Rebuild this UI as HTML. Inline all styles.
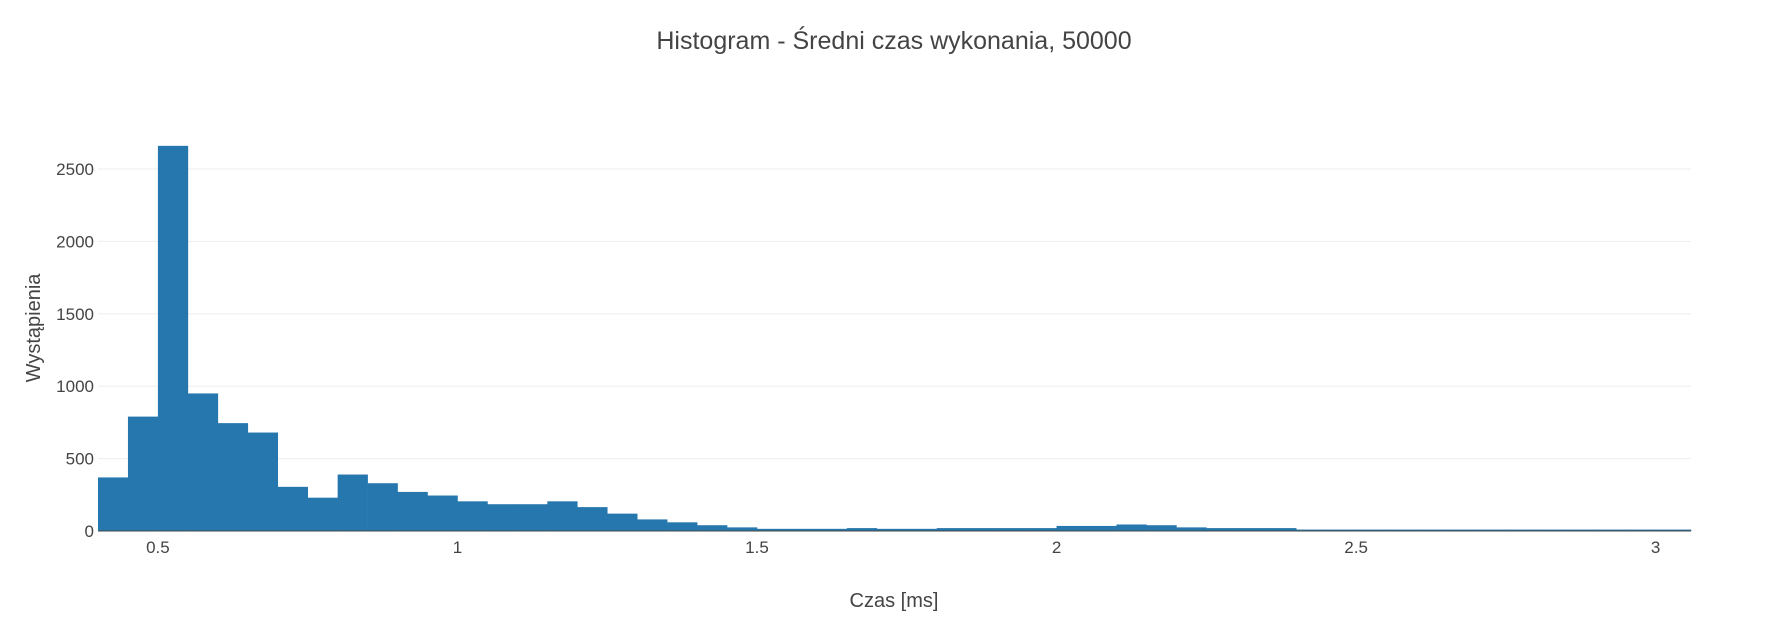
<!DOCTYPE html>
<html><head><meta charset="utf-8"><style>
body{margin:0;background:#fff;width:1785px;height:629px;overflow:hidden}
svg text{font-family:"Liberation Sans",sans-serif;fill:#444}
</style></head><body>
<svg id="chart" width="1785" height="629" xmlns="http://www.w3.org/2000/svg">
<text x="894" y="49" text-anchor="middle" font-size="25">Histogram - Średni czas wykonania, 50000</text>
<g id="grid"></g><g id="bars"></g><g id="axes"></g>
<text x="894" y="607" text-anchor="middle" font-size="20">Czas [ms]</text>
<text transform="translate(40,328) rotate(-90)" text-anchor="middle" font-size="20">Wystąpienia</text>
</svg>
<script>
const binStarts=[0.4,0.45,0.5,0.55,0.6,0.65,0.7,0.75,0.8,0.85,0.9,0.95,1.0,1.05,1.1,1.15,1.2,1.25,1.3,1.35,1.4,1.45,1.5,1.55,1.6,1.65,1.7,1.75,1.8,1.85,1.9,1.95,2.0,2.05,2.1,2.15,2.2,2.25,2.3,2.35,2.4,2.45,2.5,2.55,2.6,2.65,2.7,2.75,2.8,2.85,2.9,2.95,3.0,3.05];
const counts=[370,790,2660,950,745,680,305,230,390,330,270,245,205,185,185,205,165,120,80,60,40,25,15,15,15,20,15,15,20,20,20,20,35,35,45,40,25,20,20,20,10,10,10,10,10,10,10,10,10,10,10,10,10,10];
const binWidth=0.05;
const xTicks=[0.5,1,1.5,2,2.5,3];
const xTickLabels=["0.5","1","1.5","2","2.5","3"];
const yTicks=[0,500,1000,1500,2000,2500];
const yTickLabels=["0","500","1000","1500","2000","2500"];
const L=98,R=1691,B=531;
const xMin=0.4,xMax=3.059;
const X=v=>L+(v-xMin)/(xMax-xMin)*(R-L);
const Y=v=>B-v*0.1448;
const NS="http://www.w3.org/2000/svg";
const grid=document.getElementById('grid'),bars=document.getElementById('bars'),axes=document.getElementById('axes');
function mk(tag,attrs,parent){const e=document.createElementNS(NS,tag);for(const k in attrs)e.setAttribute(k,attrs[k]);parent.appendChild(e);return e;}
yTicks.forEach((t,i)=>{
 if(t>0){const g=mk('line',{x1:L,x2:R,y1:Y(t),y2:Y(t),stroke:'#eee','stroke-width':1},grid);
 
 }
 const tx=mk('text',{x:L-4,y:Y(t)+6,'text-anchor':'end','font-size':17},axes);tx.textContent=yTickLabels[i];
 
 
});
xTicks.forEach((t,i)=>{
 const tx=mk('text',{x:X(t),y:B+22,'text-anchor':'middle','font-size':17},axes);tx.textContent=xTickLabels[i];
 
 
});
binStarts.forEach((s,i)=>{
 const x0=Math.max(X(s),L),x1=Math.min(X(s+binWidth),R);
 if(x1<=x0)return;
 const r=mk('rect',{x:x0,y:Y(counts[i]),width:x1-x0+0.3,height:B-Y(counts[i]),fill:'#2677ae'},bars);
 
 
});
const ax=mk('line',{x1:L,x2:R,y1:B,y2:B,stroke:'#444','stroke-width':1},axes);


</script>
</body></html>
